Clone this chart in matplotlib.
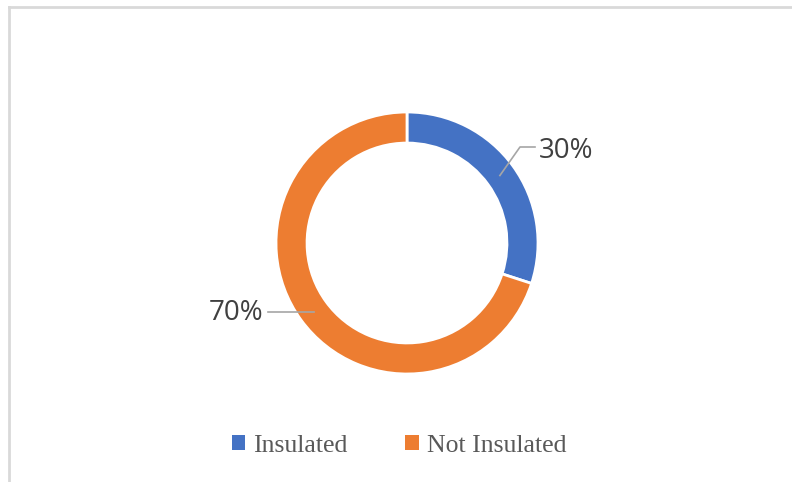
import numpy as np
import matplotlib.pyplot as plt
from matplotlib.lines import Line2D
from matplotlib.patches import Patch

labels = ['Insulated', 'Not Insulated']
shares = [30, 70]
colors = ['#4472C4', '#ED7D31']

W, H = 792, 482
cx, cy, R = 407, 243, 131  # pixel centre and outer radius

fig = plt.figure(figsize=(W / 100, H / 100), dpi=100)
fig.patch.set_facecolor('white')

# chart frame (only left and top edges visible in the crop)
fig.add_artist(Line2D([9 / W, 9 / W], [0, 1 - 7 / H], color='#D9D9D9', lw=2))
fig.add_artist(Line2D([9 / W, 1], [1 - 7 / H, 1 - 7 / H], color='#D9D9D9', lw=2))

half = 170
ax = fig.add_axes([(cx - half) / W, 1 - (cy + half) / H, 2 * half / W, 2 * half / H])

width = 0.237
wedges, _ = ax.pie(shares, colors=colors, startangle=90, counterclock=False,
                   radius=1, wedgeprops=dict(width=width, edgecolor='white', linewidth=2))
lim = half / R
ax.set_xlim(-lim, lim)
ax.set_ylim(-lim, lim)
ax.set_aspect('equal')
ax.axis('off')

line_col = '#A6A6A6'
text_col = '#404040'
rmid = 1 - width / 2 - 0.005

# 30% label: elbow leader to upper right
ang = np.deg2rad(90 - shares[0] / 100 * 360 / 2)
x0, y0 = rmid * np.cos(ang), rmid * np.sin(ang)
ax.plot([x0, 113 / R, 128 / R], [y0, 96 / R, 96 / R], color=line_col, lw=1.2)
ax.text(132 / R, 92 / R, f'{shares[0]}%', ha='left', va='center',
        fontsize=20, color=text_col, family='Open Sans')

# 70% label: straight leader to the left
ang = np.deg2rad(90 - shares[0] / 100 * 360 - shares[1] / 100 * 360 / 2)
x0, y0 = rmid * np.cos(ang), rmid * np.sin(ang)
ly = y0 - 1.5 / R
ax.plot([x0, -139 / R], [ly, ly], color=line_col, lw=1.2)
ax.text(-144 / R, ly - 1 / R, f'{shares[1]}%', ha='right', va='center',
        fontsize=20, color=text_col, family='Open Sans')

handles = [Patch(facecolor=c, edgecolor='none') for c in colors]
fig.legend(handles, labels, loc='center', bbox_to_anchor=(399 / W, 1 - 446 / H),
           ncol=2, frameon=False, handlelength=0.52, handleheight=0.52,
           handletextpad=0.3, columnspacing=2.26,
           prop=dict(family='Liberation Serif', size=18.5), labelcolor='#595959')

fig.savefig('out.png', dpi=100, facecolor='white')
